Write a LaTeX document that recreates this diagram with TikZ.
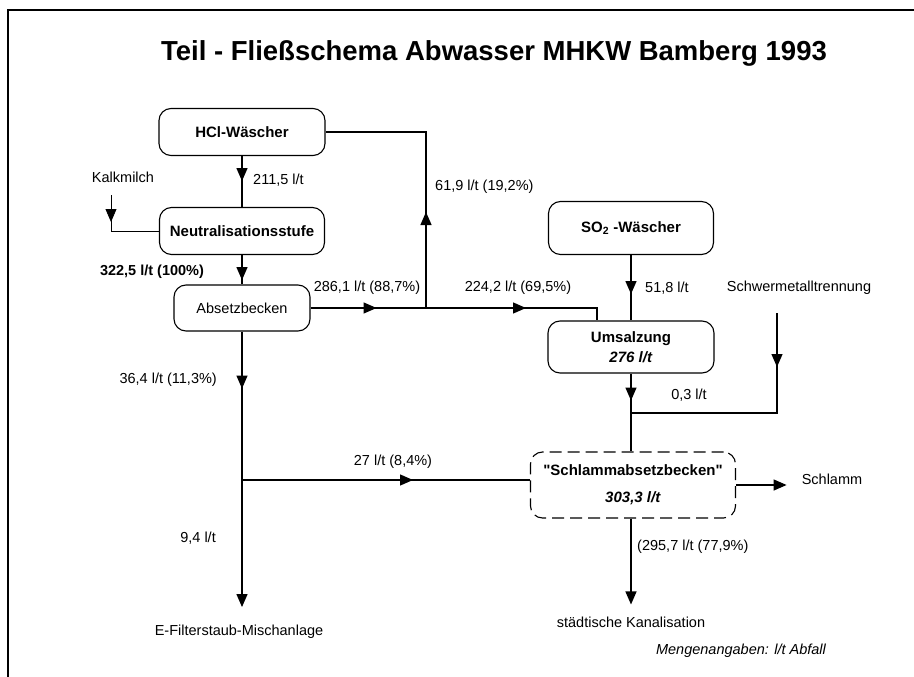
\documentclass[tikz,border=0pt]{standalone}
\usepackage{fontspec}
\setmainfont{Liberation Sans}
\usetikzlibrary{arrows.meta,decorations.markings}
\tikzset{
    %Define standard arrow tip
    >={Triangle[length=13pt,width=11pt]},
    %Define style for boxes
    plain/.style={
           rectangle,
           rounded corners=12pt,
           draw=black, line width=1.1pt,
           font=\fontsize{15}{18}\selectfont\bfseries,
           align=center},
    % Define style for flow labels
    lbl/.style={
           inner sep=0pt,
           font=\fontsize{14.5}{17}\selectfont},
    % Define line style
    pil/.style={
           line width=1.3pt},
    % Define line style with arrow tip along the line
    midpil/.style={
           pil,
           postaction={decorate},
           decoration={markings,
               mark=at position #1 with {\arrow{>}}}},
}
\begin{document}
\begin{tikzpicture}[x=1pt, y=-1pt]
        \useasboundingbox (0,0) rectangle (914,677);
        % frame
        \draw[line width=1.4pt] (8,677) -- (8,10) -- (914,10);

        %nodes

        % title node
        \node[font=\fontsize{27.5}{32}\selectfont\bfseries]
        (title) at (494,53)
        {Teil - Fließschema Abwasser MHKW Bamberg 1993}
        ;

        % HCl-Wäscher node
        \node[plain, minimum width=166pt, minimum height=47pt]
        (hcl) at (242,132)
        {HCl-Wäscher}
        ;

        % Neutralisationsstufe node
        \node[plain, minimum width=165pt, minimum height=47pt]
        (neutral) at (242,231)
        {Neutralisationsstufe}
        ;

        % Absetzbecken node
        \node[plain, font=\fontsize{14.5}{17}\selectfont,
        minimum width=136pt, minimum height=46pt]
        (absetz) at (242,308)
        {Absetzbecken}
        ;

        % SO2-Wäscher node
        \node[plain, minimum width=165pt, minimum height=53pt]
        (so2) at (631,228)
        {SO\textsubscript{2} -Wäscher}
        ;

        % Umsalzung node
        \node[plain, minimum width=166pt, minimum height=52pt]
        (umsalz) at (631,347)
        {Umsalzung\\[2pt] \textit{276 l/t}}
        ;

        % Schlammabsetzbecken node
        \node[plain, dash pattern=on 12pt off 6pt,
        minimum width=205pt, minimum height=66pt]
        (schlbecken) at (633,485)
        {\textquotedbl Schlammabsetzbecken\textquotedbl\\[9pt] \textit{303,3 l/t}}
        ;

        % labels and end points
        \node[lbl] (kalk) at (123,177) {Kalkmilch};
        \node[lbl, anchor=west] (l-hcl) at (253,180) {211,5 l/t};
        \node[lbl, font=\fontsize{14.5}{17}\selectfont\bfseries]
        (l-neutral) at (152,272) {322,5 l/t (100\%)};
        \node[lbl] (l-absetz) at (367,288) {286,1 l/t (88,7\%)};
        \node[lbl, anchor=west] (l-rueck) at (435,187) {61,9 l/t (19,2\%)};
        \node[lbl] (l-umsalz) at (518,288) {224,2 l/t (69,5\%)};
        \node[lbl, anchor=west] (l-so2) at (645,288) {51,8 l/t};
        \node[lbl] (schwer) at (799,288) {Schwermetalltrennung};
        \node[lbl] (l-schwer) at (689,395) {0,3 l/t};
        \node[lbl, anchor=east] (l-unten) at (217,380) {36,4 l/t (11,3\%)};
        \node[lbl, anchor=east] (l-filter) at (216,538) {9,4 l/t};
        \node[lbl] (l-schlamm) at (393,462) {27 l/t (8,4\%)};
        \node[lbl] (schlamm) at (832,479) {Schlamm};
        \node[lbl, anchor=west] (l-kanal) at (637,547) {(295,7 l/t (77,9\%)};
        \node[lbl] (kanal) at (631,622) {städtische Kanalisation};
        \node[lbl] (filter) at (239,632) {E-Filterstaub-Mischanlage};
        \node[lbl, font=\fontsize{14.5}{17}\selectfont\itshape]
        (menge) at (741,651) {Mengenangaben: l/t Abfall};

        % junctions
        \coordinate (j1) at (426,308);
        \coordinate (j2) at (597,308);
        \coordinate (j3) at (631,413);
        \coordinate (j4) at (242,480);
        \coordinate (kalk-in) at (111,195);
        \coordinate (schwer-in) at (777,313);

        % HCl-Wäscher and Neutralisationsstufe
        \draw[midpil=25pt] (hcl.south) -- (neutral.north);

        % Kalkmilch and Neutralisationsstufe
        \draw[midpil=27pt, line width=0.8pt] (kalk-in) |- (neutral.west);

        % Neutralisationsstufe and Absetzbecken
        \draw[midpil=25pt] (neutral.south) -- (absetz.north);

        % Absetzbecken and junction
        \draw[midpil=66pt] (absetz.east) -- (j1);

        % junction and Umsalzung
        \draw[midpil=100pt] (j1) -- (j2) -- (j2 |- umsalz.north);

        % junction back to HCl-Wäscher
        \draw[midpil=96pt] (j1) |- (hcl.east);

        % SO2-Wäscher and Umsalzung
        \draw[midpil=39pt] (so2.south) -- (so2.south |- umsalz.north);

        % Umsalzung and Schlammabsetzbecken
        \draw[midpil=27pt] (umsalz.south) -- (umsalz.south |- schlbecken.north);

        % Schwermetalltrennung
        \draw[midpil=54pt] (schwer-in) |- (j3);

        % Absetzbecken down to E-Filterstaub-Mischanlage
        \draw[midpil=57pt, ->, shorten >=18pt]
        (absetz.south) -- (absetz.south |- filter.north);

        % junction and Schlammabsetzbecken
        \draw[midpil=171pt] (j4) -- (j4 -| schlbecken.west);

        % Schlammabsetzbecken and Schlamm
        \draw[pil, ->, shorten >=15pt]
        (schlbecken.east) -- (schlbecken.east -| schlamm.west);

        % Schlammabsetzbecken and Kanalisation
        \draw[pil, ->, shorten >=12pt]
        (schlbecken.south -| kanal) -- (kanal.north);

    \end{tikzpicture}
\end{document}
